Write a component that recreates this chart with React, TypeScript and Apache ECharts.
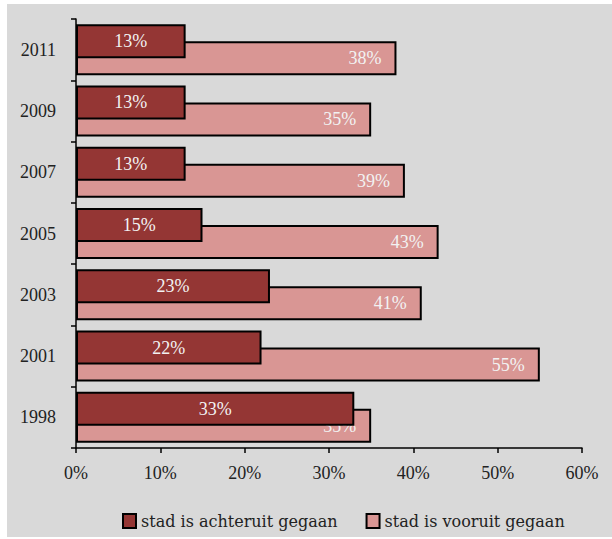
import React, { useEffect, useRef } from "react";
import * as echarts from "echarts";

const categories = ["1998", "2001", "2003", "2005", "2007", "2009", "2011"];
const achteruit = [33, 22, 23, 15, 13, 13, 13];
const vooruit = [35, 55, 41, 43, 39, 35, 38];
const xTicks = [0, 10, 20, 30, 40, 50, 60];

const SERIF = "'Liberation Serif', 'DejaVu Serif', serif";

export default function App() {
  const ref = useRef<HTMLDivElement>(null);
  useEffect(() => {
    if (!ref.current) return;
    const chart = echarts.init(ref.current, undefined, { renderer: "svg" });
    chart.setOption({
      animation: false,
      graphic: [
        {
          type: "rect",
          z: -10,
          silent: true,
          shape: { x: 7, y: 4, width: 605, height: 533 },
          style: { fill: "#d9d9d9" },
        },
      ],
      grid: { left: 76, right: 30, top: 19, bottom: 91 },
      legend: {
        left: 117,
        top: 508,
        itemWidth: 13,
        itemHeight: 14,
        itemGap: 28,
        icon: "rect",
        textStyle: { fontFamily: "'DejaVu Serif', serif", fontSize: 16, color: "#222" },
        data: ["stad is achteruit gegaan", "stad is vooruit gegaan"],
      },
      xAxis: {
        type: "value",
        min: 0,
        max: 60,
        interval: 10,
        axisLine: { show: true, lineStyle: { color: "#000", width: 1.5 } },
        axisTick: { show: true, length: 5, lineStyle: { color: "#000", width: 1.5 } },
        splitLine: { show: false },
        axisLabel: {
          margin: 16,
          fontFamily: SERIF,
          fontSize: 18,
          color: "#222",
          formatter: (v: number) => (xTicks.includes(v) ? v + "%" : ""),
        },
      },
      yAxis: {
        type: "category",
        data: categories,
        axisLine: { show: true, lineStyle: { color: "#000", width: 1.5 } },
        axisTick: { show: true, length: 5, lineStyle: { color: "#000", width: 1.5 } },
        axisLabel: { margin: 20, fontFamily: SERIF, fontSize: 18, color: "#222" },
      },
      series: [
        {
          name: "stad is achteruit gegaan",
          type: "bar",
          data: achteruit,
          barWidth: 34,
          barGap: "-50%",
          z: 3,
          itemStyle: { color: "#943634", borderColor: "#000", borderWidth: 2 },
          label: {
            show: true,
            position: "inside",
            formatter: "{c}%",
            fontFamily: SERIF,
            fontSize: 18,
            color: "#f2f2f2",
          },
        },
        {
          name: "stad is vooruit gegaan",
          type: "bar",
          data: vooruit,
          barWidth: 34,
          barGap: "-50%",
          z: 2,
          itemStyle: { color: "#d99694", borderColor: "#000", borderWidth: 2 },
          label: {
            show: true,
            position: "insideRight",
            distance: 15,
            formatter: "{c}%",
            fontFamily: SERIF,
            fontSize: 18,
            color: "#f2f2f2",
          },
        },
      ],
    });
    return () => chart.dispose();
  }, []);
  return (
    <div
      ref={ref}
      style={{ position: "fixed", left: 0, top: 0, width: 612, height: 539, background: "#fff" }}
    />
  );
}
